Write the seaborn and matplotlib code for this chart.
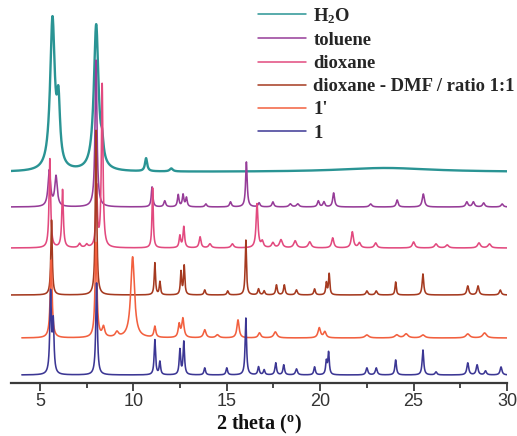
import numpy as np
import pandas as pd
import matplotlib
matplotlib.use("Agg")
import matplotlib.pyplot as plt
import seaborn as sns

# Sample names (legend order = drawing order) and trace colours
samples = [r"H$_\mathrm{2}$O", "toluene", "dioxane",
           "dioxane - DMF / ratio 1:1", "1'", "1"]
colors = ["#2a9494", "#963c98", "#e24a7f", "#a53a20", "#f2603f", "#3c3794"]

# Reflection lists: 2θ position (deg), intensity (a.u.), half width (deg)
h2o_pos = [5.67, 5.99, 8.01, 8.33, 10.68, 12.03, 23.5]
h2o_int = [150, 58, 146, 16, 13, 3, 4]
h2o_hw = [0.15, 0.10, 0.15, 0.08, 0.07, 0.10, 3.0]

tol_pos = [5.50, 5.86, 8.00, 11.00, 11.68, 12.40, 12.66, 12.84, 13.88, 15.20,
           16.05, 16.73, 17.47, 18.40, 18.80, 19.90, 20.20, 20.72, 22.70, 24.12,
           25.52, 27.85, 28.20, 28.75, 29.74]
tol_int = [36, 30, 147, 20, 6, 12, 12, 9, 3, 5,
           45, 4, 5, 3, 3, 6, 5, 14, 3, 7,
           13, 5, 5, 4, 3]
tol_hw = [0.08, 0.08, 0.06, 0.05, 0.06, 0.05, 0.05, 0.05, 0.06, 0.06,
          0.05, 0.06, 0.06, 0.08, 0.08, 0.06, 0.06, 0.06, 0.08, 0.06,
          0.07, 0.07, 0.07, 0.07, 0.07]

dio_pos = [5.53, 6.21, 7.12, 7.50, 8.03, 8.33, 11.03, 12.49, 12.70, 13.57,
           14.10, 15.30, 16.62, 16.90, 17.47, 17.90, 18.66, 19.44, 20.67, 21.72,
           22.10, 22.97, 25.00, 26.20, 26.80, 28.50, 29.06]
dio_int = [89, 58, 4, 3, 60, 163, 60, 12, 21, 11,
           4, 4, 44, 6, 5, 8, 7, 6, 10, 16,
           5, 5, 6, 4, 3, 5, 4]
dio_hw = [0.05, 0.05, 0.07, 0.07, 0.05, 0.05, 0.04, 0.05, 0.05, 0.06,
          0.08, 0.08, 0.06, 0.07, 0.08, 0.09, 0.09, 0.09, 0.07, 0.07,
          0.08, 0.08, 0.08, 0.09, 0.09, 0.09, 0.09]

dmf_pos = [5.62, 8.00, 11.15, 11.42, 12.55, 12.72, 13.82, 15.05, 16.02, 16.70,
           17.00, 17.66, 18.08, 18.73, 19.70, 20.33, 20.48, 22.50, 23.00, 24.04,
           25.50, 27.90, 28.45, 29.64]
dmf_int = [75, 165, 32, 13, 23, 29, 5, 4, 55, 6,
           4, 10, 10, 5, 6, 12, 21, 4, 4, 13,
           21, 9, 9, 5]
dmf_hw = [0.045, 0.045, 0.04, 0.04, 0.04, 0.04, 0.05, 0.05, 0.04, 0.05,
          0.05, 0.05, 0.05, 0.06, 0.05, 0.04, 0.04, 0.06, 0.06, 0.04,
          0.05, 0.06, 0.06, 0.06]

one_p_pos = [5.60, 8.00, 8.40, 9.12, 9.96, 11.15, 12.45, 12.65, 13.82, 14.50,
             15.60, 16.75, 17.60, 19.95, 20.25, 22.50, 24.10, 24.60, 25.50,
             27.90, 28.80]
one_p_int = [78, 95, 10, 5, 81, 11, 13, 19, 8, 3,
             18, 5, 6, 10, 6, 3, 3, 4, 3,
             4, 5]
one_p_hw = [0.06, 0.06, 0.08, 0.10, 0.12, 0.06, 0.06, 0.07, 0.08, 0.10,
            0.07, 0.08, 0.10, 0.08, 0.08, 0.12, 0.12, 0.12, 0.12,
            0.12, 0.12]

one_pos = [5.57, 5.71, 8.03, 11.15, 11.42, 12.49, 12.70, 13.82, 15.00, 16.02,
           16.70, 17.00, 17.62, 18.05, 18.73, 19.70, 20.33, 20.45, 22.50, 23.00,
           24.04, 25.50, 26.20, 27.90, 28.40, 28.85, 29.68]
one_int = [80, 50, 92, 35, 13, 25, 33, 7, 7, 57,
           8, 5, 12, 10, 6, 8, 13, 22, 7, 7,
           15, 25, 3, 12, 10, 4, 8]
one_hw = [0.05, 0.05, 0.05, 0.045, 0.045, 0.045, 0.045, 0.05, 0.05, 0.045,
          0.05, 0.05, 0.05, 0.05, 0.06, 0.05, 0.045, 0.045, 0.06, 0.06,
          0.05, 0.05, 0.06, 0.06, 0.06, 0.06, 0.06]

peak_lists = [
    (h2o_pos, h2o_int, h2o_hw),
    (tol_pos, tol_int, tol_hw),
    (dio_pos, dio_int, dio_hw),
    (dmf_pos, dmf_int, dmf_hw),
    (one_p_pos, one_p_int, one_p_hw),
    (one_pos, one_int, one_hw),
]

# Vertical stacking of the patterns and the 2θ range scanned for each
trace_offsets = [211, 176, 135, 88, 45, 8]
scan_start = [3.45, 3.45, 3.45, 3.45, 4.03, 4.03]
scan_end = 30.0
step = 0.004


def pattern(two_theta, pos, inten, hw):
    y = np.zeros_like(two_theta)
    for p, a, w in zip(pos, inten, hw):
        y += a / (1.0 + ((two_theta - p) / w) ** 2)
    return y


frames = []
for name, (pos, inten, hw), off, x0 in zip(samples, peak_lists, trace_offsets, scan_start):
    tt = np.arange(x0, scan_end + step / 2, step)
    frames.append(pd.DataFrame({"2theta": tt,
                                "intensity": pattern(tt, pos, inten, hw) + off,
                                "sample": name}))
df = pd.concat(frames, ignore_index=True)

sns.set_theme(style="ticks")
plt.rcParams["mathtext.fontset"] = "custom"
plt.rcParams["mathtext.rm"] = "Liberation Serif:bold"
plt.rcParams["mathtext.bf"] = "Liberation Serif:bold"
plt.rcParams["mathtext.it"] = "Liberation Serif:bold"

fig = plt.figure(figsize=(5.17, 4.36), dpi=100)
ax = fig.add_axes([11 / 517, 53 / 436, 496 / 517, 373 / 436])

sns.lineplot(data=df, x="2theta", y="intensity", hue="sample",
             hue_order=samples, palette=colors, estimator=None, sort=False,
             linewidth=1.15, ax=ax)
ax.lines[0].set_linewidth(1.7)

ax.set_xlim(3.45, 30)
ax.set_ylim(0, 373)
ax.set_yticks([])
ax.set_ylabel("")
sns.despine(ax=ax, left=True)
ax.spines["bottom"].set_linewidth(1.6)
ax.spines["bottom"].set_color("#3a3a3a")

ax.set_xticks([5, 10, 15, 20, 25, 30])
ax.set_xticks([7.5, 12.5, 17.5, 22.5, 27.5], minor=True)
ax.tick_params(axis="x", which="major", direction="out", length=5.5, width=1.3,
               color="#3a3a3a", labelsize=13, pad=2, labelcolor="#333333")
ax.tick_params(axis="x", which="minor", direction="out", length=3.5, width=1.3,
               color="#3a3a3a")
for lbl in ax.get_xticklabels():
    lbl.set_fontfamily("Liberation Sans")

ax.set_xlabel(r"2 theta ($^\mathrm{o}$)", family="Liberation Serif",
              fontweight="bold", fontsize=14.5, labelpad=1.5, color="#111111")

handles, labels = ax.get_legend_handles_labels()
leg = ax.legend(handles, labels, loc="upper left",
                bbox_to_anchor=(258 / 517, 1 - 6 / 436),
                bbox_transform=fig.transFigure, frameon=False,
                prop={"family": "Liberation Serif", "weight": "bold", "size": 13.4},
                handlelength=2.6, handletextpad=0.38, labelspacing=0.33,
                borderpad=0, borderaxespad=0)
for h in leg.get_lines():
    h.set_linewidth(1.1)

fig.savefig("out.png", dpi=100)
